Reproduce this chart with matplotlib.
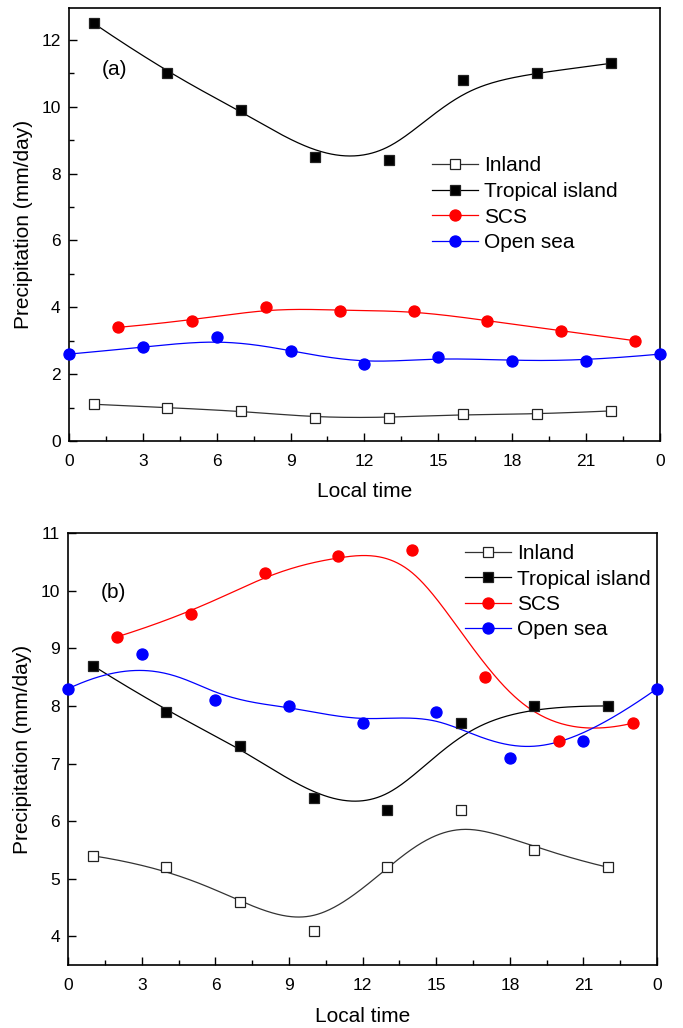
import numpy as np
import matplotlib.pyplot as plt
from matplotlib.ticker import MultipleLocator, FixedLocator

plt.rcParams['font.family'] = ['Liberation Sans', 'DejaVu Sans']

# 数据 (a)
x_inland = [1, 4, 7, 10, 13, 16, 19, 22]
x_scs = [2, 5, 8, 11, 14, 17, 20, 23]
x_open = [0, 3, 6, 9, 12, 15, 18, 21, 24]

a_inland = [1.1, 1.0, 0.9, 0.7, 0.7, 0.8, 0.8, 0.9]
a_tropical = [12.5, 11.0, 9.9, 8.5, 8.4, 10.8, 11.0, 11.3]
a_scs = [3.4, 3.6, 4.0, 3.9, 3.9, 3.6, 3.3, 3.0]
a_open = [2.6, 2.8, 3.1, 2.7, 2.3, 2.5, 2.4, 2.4, 2.6]

# 数据 (b)
b_inland = [5.4, 5.2, 4.6, 4.1, 5.2, 6.2, 5.5, 5.2]
b_tropical = [8.7, 7.9, 7.3, 6.4, 6.2, 7.7, 8.0, 8.0]
b_scs = [9.2, 9.6, 10.3, 10.6, 10.7, 8.5, 7.4, 7.7]
b_open = [8.3, 8.9, 8.1, 8.0, 7.7, 7.9, 7.1, 7.4, 8.3]

xticks = [0, 3, 6, 9, 12, 15, 18, 21, 24]
xticklabels = ['0', '3', '6', '9', '12', '15', '18', '21', '0']


def bspline(xs, ys, num=400, k=3):
    """clamped cubic B-spline, data points used as control points"""
    P = np.column_stack([xs, ys]).astype(float)
    n = len(P)
    knots = np.concatenate([np.zeros(k), np.arange(0, n - k + 1), np.full(k, n - k)]).astype(float)
    t = np.linspace(0, n - k, num)
    N = np.zeros((num, len(knots) - 1))
    for i in range(len(knots) - 1):
        N[:, i] = (knots[i] <= t) & (t < knots[i + 1])
    N[-1, n - 1] = 1.0
    for d in range(1, k + 1):
        M = np.zeros((num, len(knots) - 1 - d))
        for i in range(len(knots) - 1 - d):
            a = knots[i + d] - knots[i]
            b = knots[i + d + 1] - knots[i + 1]
            term = 0
            if a > 0:
                term = term + (t - knots[i]) / a * N[:, i]
            if b > 0:
                term = term + (knots[i + d + 1] - t) / b * N[:, i + 1]
            M[:, i] = term
        N = M
    C = N @ P
    return C[:, 0], C[:, 1]


def draw(ax, inland, tropical, scs, opensea):
    lc = '#333333'
    for xs, ys, col, mk, mfc, lab in [
        (x_inland, inland, lc, 's', 'white', 'Inland'),
        (x_inland, tropical, 'black', 's', 'black', 'Tropical island'),
        (x_scs, scs, 'red', 'o', 'red', 'SCS'),
        (x_open, opensea, 'blue', 'o', 'blue', 'Open sea'),
    ]:
        cx, cy = bspline(xs, ys)
        ax.plot(cx, cy, '-', color=col, lw=0.9, zorder=2)
        ms = 6.5 if mk == 's' else 8
        mec = '#222222' if mk == 's' else col
        ax.plot(xs, ys, linestyle='none', marker=mk, ms=ms, mfc=mfc, mec=mec,
                mew=0.9, zorder=3, clip_on=False)
        ax.plot([], [], '-', color=col, lw=0.9, marker=mk, ms=ms, mfc=mfc,
                mec=mec, mew=0.9, label=lab)
    ax.set_xlim(0, 24)
    ax.xaxis.set_major_locator(FixedLocator(xticks))
    ax.set_xticklabels(xticklabels)
    ax.xaxis.set_minor_locator(MultipleLocator(1.5))
    ax.tick_params(which='both', direction='in', top=False, right=False,
                   labelsize=12.5, width=1)
    ax.tick_params(axis='x', pad=9)
    ax.tick_params(axis='y', pad=6)
    ax.tick_params(which='major', length=6)
    ax.tick_params(which='minor', length=3.5)
    for s in ax.spines.values():
        s.set_linewidth(1.2)
    ax.set_xlabel('Local time', fontsize=15, labelpad=10)
    ax.set_ylabel('Precipitation (mm/day)', fontsize=15, labelpad=6)


fig = plt.figure(figsize=(6.83, 10.28), dpi=100)
fig.patch.set_facecolor('white')

ax1 = fig.add_axes([0.101, 0.571, 0.865, 0.421])
draw(ax1, a_inland, a_tropical, a_scs, a_open)
ax1.set_ylim(0, 12.95)
ax1.yaxis.set_major_locator(MultipleLocator(2))
ax1.yaxis.set_minor_locator(MultipleLocator(1))
ax1.text(0.055, 0.845, '(a)', transform=ax1.transAxes, fontsize=15)
ax1.legend(loc='upper left', bbox_to_anchor=(0.6, 0.677), frameon=False,
           fontsize=15, handlelength=2.2, handletextpad=0.3,
           labelspacing=0.32, borderaxespad=0, numpoints=1)

ax2 = fig.add_axes([0.1, 0.061, 0.862, 0.4205])
draw(ax2, b_inland, b_tropical, b_scs, b_open)
ax2.set_ylim(3.5, 11)
ax2.yaxis.set_major_locator(MultipleLocator(1))
ax2.text(0.055, 0.85, '(b)', transform=ax2.transAxes, fontsize=15)
ax2.legend(loc='upper left', bbox_to_anchor=(0.655, 1.0), frameon=False,
           fontsize=15, handlelength=2.2, handletextpad=0.3,
           labelspacing=0.3, borderaxespad=0.15, numpoints=1)

fig.savefig('out.png', dpi=100)
